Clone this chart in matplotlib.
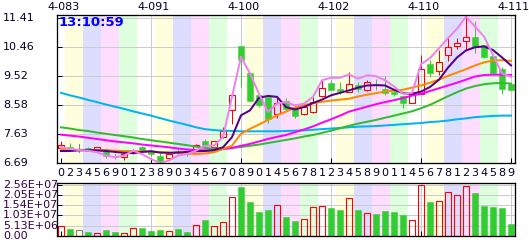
import matplotlib
matplotlib.use('Agg')
import matplotlib.pyplot as plt
from matplotlib.patches import Rectangle
import matplotlib.transforms as mtrans

# ---------------- data ----------------
days = list(range(51))
day_labels = list("023456901238903456708901456781234589011456781234589")
top_labels = ["4-083", "4-091", "4-100", "4-102", "4-110", "4-111"]
top_label_days = [0, 10, 20, 30, 40, 50]
price_ticks = [6.69, 7.63, 8.58, 9.52, 10.46, 11.41]
price_tick_labels = ["6.69", "7.63", "8.58", "9.52", "10.46", "11.41"]
vol_ticks = [0, 5.13e6, 1.03e7, 1.54e7, 2.05e7, 2.56e7]
vol_tick_labels = ["0.00", "5.13E+06", "1.03E+07", "1.54E+07", "2.05E+07", "2.56E+07"]
clock = "13:10:59"

open_ = [7.18, 7.20, 7.15, 7.17, 7.11, 7.15, 6.93, 6.88, 7.00, 7.20,
         7.09, 6.93, 6.85, 7.09, 7.02, 7.12, 7.41, 7.20, 7.53, 8.40,
         10.49, 9.60, 8.89, 8.84, 8.29, 8.71, 8.45, 8.29, 8.35, 8.87,
         9.29, 9.11, 8.99, 9.24, 9.07, 9.27, 9.11, 9.00, 8.86, 8.64,
         8.94, 9.90, 9.69, 10.19, 10.50, 10.66, 10.77, 10.52, 10.16, 9.73,
         9.27]
high = [7.42, 7.33, 7.31, 7.22, 7.22, 7.18, 7.01, 7.04, 7.15, 7.25,
        7.12, 7.02, 7.05, 7.15, 7.06, 7.30, 7.46, 7.42, 7.86, 8.94,
        10.49, 9.65, 8.94, 8.84, 8.85, 8.81, 8.61, 8.64, 8.85, 9.43,
        9.38, 9.33, 9.65, 9.33, 9.40, 9.43, 9.51, 9.11, 8.86, 9.03,
        10.19, 10.03, 10.36, 10.80, 10.74, 11.45, 11.29, 10.52, 10.16, 9.82,
        9.27]
low = [7.16, 7.07, 7.04, 7.08, 7.08, 6.85, 6.82, 6.80, 6.98, 7.05,
       6.92, 6.69, 6.82, 6.99, 6.93, 7.10, 7.22, 7.18, 7.50, 7.96,
       9.16, 8.70, 8.50, 8.00, 8.16, 8.41, 8.16, 8.26, 8.30, 8.85,
       9.07, 8.94, 8.99, 9.00, 9.03, 9.05, 8.89, 8.86, 8.49, 8.64,
       8.94, 9.49, 9.56, 10.01, 10.38, 10.36, 10.25, 10.09, 9.60, 8.94,
       9.05]
close = [7.28, 7.15, 7.15, 7.09, 7.20, 6.93, 6.88, 6.98, 7.09, 7.09,
         6.97, 6.77, 6.98, 7.04, 6.97, 7.26, 7.26, 7.39, 7.74, 8.89,
         10.03, 8.70, 8.56, 8.13, 8.64, 8.45, 8.23, 8.51, 8.67, 9.14,
         9.07, 9.03, 9.27, 9.11, 9.33, 9.21, 8.98, 8.92, 8.64, 8.94,
         9.73, 9.60, 9.98, 10.45, 10.60, 10.80, 10.45, 10.14, 9.60, 9.11,
         9.05]
volume = [5.03e6, 3.52e6, 2.87e6, 1.86e6, 1.66e6, 3.02e6, 2.01e6, 1.66e6, 3.87e6, 4.02e6,
          2.52e6, 3.02e6, 2.36e6, 3.52e6, 2.01e6, 5.38e6, 8.05e6, 4.88e6, 6.89e6, 19.47e6,
          24.65e6, 17.10e6, 12.07e6, 13.08e6, 15.44e6, 9.56e6, 7.55e6, 8.55e6, 14.44e6, 14.94e6,
          14.08e6, 13.08e6, 18.96e6, 13.08e6, 11.42e6, 11.07e6, 12.58e6, 12.07e6, 10.56e6, 7.90e6,
          25.50e6, 17.10e6, 17.61e6, 21.98e6, 20.47e6, 25.00e6, 21.63e6, 15.09e6, 14.59e6, 14.08e6,
          6.04e6]

ma_purple = [7.08, 7.08, 7.10, 7.11, 7.10, 7.08, 7.05, 7.02, 7.02, 7.05,
             7.07, 7.03, 7.02, 7.03, 7.05, 7.07, 7.08, 7.11, 7.20, 7.53,
             8.24, 8.40, 8.81, 8.87, 8.84, 8.51, 8.43, 8.51, 8.64, 8.75,
             8.89, 8.97, 9.05, 9.14, 9.21, 9.22, 9.21, 9.07, 8.96, 8.94,
             9.01, 9.16, 9.40, 9.79, 10.12, 10.35, 10.45, 10.48, 10.36, 10.12,
             9.86]
ma_orange = [7.15, 7.13, 7.11, 7.11, 7.11, 7.10, 7.09, 7.08, 7.08, 7.07,
             7.07, 7.04, 7.03, 7.02, 7.00, 6.98, 7.00, 7.04, 7.15, 7.25,
             7.64, 7.80, 7.94, 8.09, 8.24, 8.36, 8.49, 8.57, 8.63, 8.68,
             8.72, 8.75, 8.78, 8.85, 8.91, 8.96, 9.01, 9.04, 9.07, 9.14,
             9.21, 9.30, 9.40, 9.52, 9.63, 9.74, 9.86, 9.96, 10.02, 10.03,
             10.01]
ma_magenta = [7.61, 7.58, 7.55, 7.51, 7.47, 7.43, 7.39, 7.36, 7.33, 7.29,
              7.26, 7.23, 7.20, 7.16, 7.13, 7.11, 7.10, 7.10, 7.14, 7.18,
              7.25, 7.31, 7.39, 7.47, 7.54, 7.60, 7.69, 7.78, 7.88, 8.00,
              8.11, 8.23, 8.36, 8.44, 8.52, 8.60, 8.67, 8.73, 8.80, 8.88,
              8.94, 9.03, 9.12, 9.21, 9.30, 9.40, 9.50, 9.55, 9.56, 9.56,
              9.55]
ma_green = [7.85, 7.81, 7.76, 7.73, 7.68, 7.64, 7.60, 7.56, 7.52, 7.47,
            7.43, 7.39, 7.35, 7.31, 7.27, 7.22, 7.18, 7.16, 7.16, 7.18,
            7.21, 7.25, 7.29, 7.34, 7.39, 7.44, 7.49, 7.55, 7.60, 7.67,
            7.74, 7.82, 7.90, 7.97, 8.03, 8.09, 8.16, 8.23, 8.30, 8.37,
            8.47, 8.58, 8.72, 8.86, 8.99, 9.11, 9.19, 9.25, 9.28, 9.29,
            9.27]
ma_blue = [8.97, 8.89, 8.82, 8.74, 8.67, 8.59, 8.52, 8.45, 8.37, 8.30,
           8.23, 8.15, 8.07, 8.00, 7.93, 7.85, 7.79, 7.76, 7.74, 7.73,
           7.72, 7.72, 7.72, 7.72, 7.72, 7.73, 7.74, 7.75, 7.77, 7.79,
           7.81, 7.83, 7.85, 7.87, 7.88, 7.89, 7.91, 7.93, 7.95, 7.97,
           7.99, 8.02, 8.04, 8.07, 8.11, 8.14, 8.18, 8.20, 8.22, 8.23,
           8.23]
ma_violet = [7.20, 7.15, 7.11, 7.09, 7.04, 6.93, 6.88, 6.93, 7.09, 6.98,
             6.82, 6.69, 6.77, 6.93, 6.98, 7.09, 7.25, 7.26, 7.53, 8.84,
             10.14, 9.60, 8.94, 8.35, 8.62, 8.67, 8.56, 8.62, 8.84, 9.38,
             9.46, 9.46, 9.57, 9.43, 9.54, 9.51, 9.38, 9.18, 8.94, 8.97,
             9.90, 10.10, 10.42, 10.75, 11.05, 11.45, 11.12, 10.80, 10.20, 9.60,
             9.49]

# ---------------- style ----------------
W, H = 529, 240
PX = 0.72  # points per pixel at dpi 100
band_colors = ["#FFFFDD", "#DDDDFF", "#FFDDFF", "#DDFFDD", "#FFFFFF"]
UP, DOWN, FLAT = "#FF0000", "#33CC33", "#808080"
grid_c = "#CCCCCC"
lines_spec = [
    (ma_blue, "#00B4F0"),
    (ma_green, "#33BB33"),
    (ma_magenta, "#FF00FF"),
    (ma_orange, "#FF8800"),
    (ma_purple, "#550088"),
    (ma_violet, "#EE82EE"),
]

fig = plt.figure(figsize=(W / 100, H / 100), dpi=100)
fig.patch.set_facecolor("white")
L, R = 57, 515
ax = fig.add_axes([L / W, 1 - 163 / H, (R - L) / W, (163 - 15) / H])
axv = fig.add_axes([L / W, 1 - 236 / H, (R - L) / W, (236 - 183) / H])

xlo, xhi = -0.44, 50.44
for a in (ax, axv):
    a.set_xlim(xlo, xhi)
    a.set_facecolor("white")
    # background bands (2 days each, cycle of 5 colours)
    d = 0
    while d <= 50:
        idx = ((d - 1) // 2) % 5
        start = d - 0.5
        end = d + 0.5 if d == 0 else d + 1.5
        a.axvspan(max(start, xlo), min(end, xhi), color=band_colors[idx], lw=0, zorder=0)
        d = d + 1 if d == 0 else d + 2
    for gx in [10, 20, 30, 40, 50]:
        a.axvline(gx, color=grid_c, lw=1.0 * PX, zorder=0.5)
    for s in a.spines.values():
        s.set_color("black")
        s.set_linewidth(1.3 * PX)
        s.set_zorder(6)
    a.set_xticks([0, 10, 20, 30, 40, 50])
    a.tick_params(axis="both", direction="in", length=5 * PX, width=1 * PX,
                  color="black", labelleft=False, labelbottom=False)

ax.set_ylim(6.69, 11.50)
ax.set_yticks(price_ticks)
for yv in price_ticks[1:]:
    ax.axhline(yv, color=grid_c, lw=1.0 * PX, zorder=0.5)

axv.set_ylim(0, 2.65e7)
axv.set_yticks(vol_ticks)
for yv in vol_ticks[1:]:
    axv.axhline(yv, color=grid_c, lw=1.0 * PX, zorder=0.5)

# candles
bw = 0.62
for i in days:
    o, h, l, c = open_[i], high[i], low[i], close[i]
    if c > o:
        col = UP
    elif c < o:
        col = DOWN
    else:
        col = FLAT
    lo_b, hi_b = min(o, c), max(o, c)
    if col == DOWN:
        ax.plot([i, i], [l, h], color=col, lw=1 * PX, zorder=2, solid_capstyle="butt")
        ax.add_patch(Rectangle((i - bw / 2, lo_b), bw, hi_b - lo_b, facecolor=col,
                               edgecolor=col, lw=0.5 * PX, zorder=2))
    elif col == UP:
        ax.plot([i, i], [l, lo_b], color=col, lw=1 * PX, zorder=2, solid_capstyle="butt")
        ax.plot([i, i], [hi_b, h], color=col, lw=1 * PX, zorder=2, solid_capstyle="butt")
        ax.add_patch(Rectangle((i - bw / 2, lo_b), bw, hi_b - lo_b, fill=False,
                               edgecolor=col, lw=1.1 * PX, zorder=2))
    else:
        ax.plot([i, i], [l, h], color=col, lw=1 * PX, zorder=2)
        ax.plot([i - bw / 2, i + bw / 2], [o, o], color=col, lw=1.2 * PX, zorder=2)

    # volume
    if col == DOWN:
        axv.add_patch(Rectangle((i - bw / 2, 0), bw, volume[i], facecolor=col,
                                edgecolor=col, lw=0.5 * PX, zorder=3))
    else:
        axv.add_patch(Rectangle((i - bw / 2, 0), bw, volume[i], fill=False,
                                edgecolor=col, lw=1.1 * PX, zorder=3))

for vals, colr in lines_spec:
    ax.plot(days, vals, color=colr, lw=2.0 * PX, zorder=3, solid_joinstyle="round")

# texts
tf = "DejaVu Sans"
fs = 8.0
for yv, lab in zip(price_ticks, price_tick_labels):
    ax.text((3 - L) / (R - L), yv, lab, transform=ax.get_yaxis_transform(),
            ha="left", va="center", fontsize=fs, family=tf, color="#000022")
for yv, lab in zip(vol_ticks, vol_tick_labels):
    axv.text((3 - L) / (R - L), yv, lab, transform=axv.get_yaxis_transform(),
             ha="left", va="center", fontsize=fs, family=tf, color="#330044")

# day digit labels under main panel
blend = mtrans.blended_transform_factory(ax.transData, fig.transFigure)
for i, lab in zip(days, day_labels):
    ax.text(i, 1 - 172.5 / H, lab, transform=blend, ha="center", va="center",
            fontsize=fs, family=tf, color="#000022", clip_on=False)
for dd, lab in zip(top_label_days, top_labels):
    ax.text(dd + 0.3, 1 - 6.5 / H, lab, transform=blend, ha="center", va="center",
            fontsize=fs, family=tf, color="#000022", clip_on=False)

ax.text(0.003, (163 - 16) / 148, clock, transform=ax.transAxes, ha="left", va="top",
        fontsize=9.5, family=tf, fontweight="bold", color="#0000FF", zorder=7)

fig.savefig("out.png", dpi=100)
